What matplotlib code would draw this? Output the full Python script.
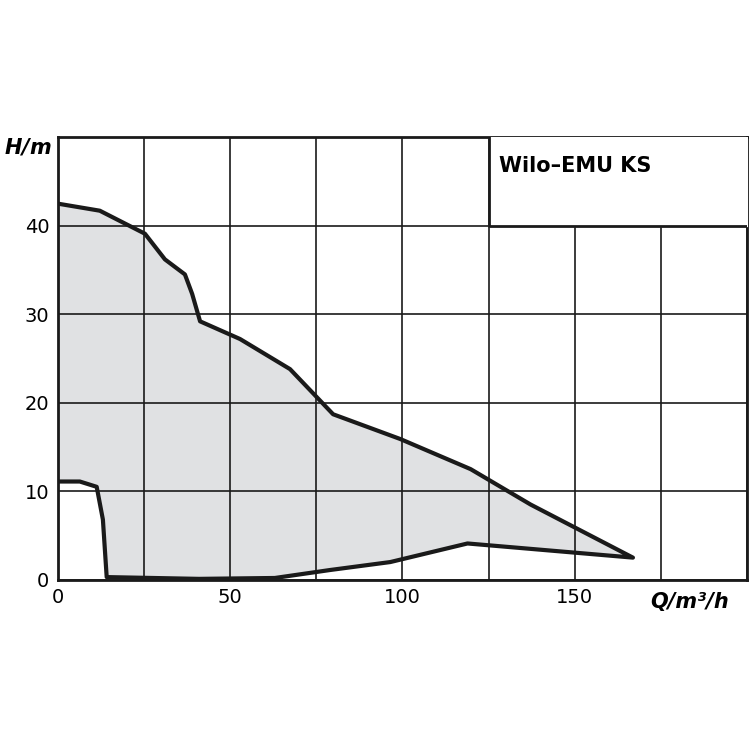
import matplotlib.pyplot as plt

upperQ = [0, 12.2, 25.3, 31.1, 36.9, 39.0, 41.3, 52.9, 67.4, 79.9, 99.4, 119.8, 137.2, 166.9]
upperH = [42.5, 41.7, 39.1, 36.2, 34.5, 32.3, 29.2, 27.2, 23.8, 18.7, 15.9, 12.5, 8.5, 2.5]
lowerQ = [166.9, 118.9, 96.5, 79.0, 63.0, 41.0, 14.2, 13.1, 11.3, 6.4, 0]
lowerH = [2.5, 4.1, 2.0, 1.1, 0.2, 0.1, 0.3, 6.8, 10.5, 11.1, 11.1]

fig = plt.figure(figsize=(7.5, 7.5), dpi=100)
ax = fig.add_axes([0.077, 0.227, 0.919, 0.59])

polyQ = upperQ + lowerQ
polyH = upperH + lowerH
ax.fill(polyQ, polyH, color='#e0e1e3', zorder=1)
ax.plot(upperQ + lowerQ, upperH + lowerH, color='#1a1a1a', lw=3, zorder=3, solid_joinstyle='round')

ax.set_xlim(0, 200)
ax.set_ylim(0, 50)
ax.set_xticks(range(0, 201, 25))
ax.set_yticks(range(0, 51, 10))
ax.set_xticklabels(['0', '', '50', '', '100', '', '150', '', ''])
ax.set_yticklabels(['0', '10', '20', '30', '40', ''])
ax.grid(True, color='#1a1a1a', lw=1.2, zorder=0)
ax.tick_params(length=0, labelsize=14, pad=6)
for s in ax.spines.values():
    s.set_linewidth(2)
    s.set_color('#1a1a1a')

ax.fill_between([125, 200], 40, 50, color='white', zorder=4)
ax.plot([125, 125, 200], [50, 40, 40], color='#1a1a1a', lw=2, zorder=5)
ax.text(128, 46.7, 'Wilo\u2013EMU KS', fontsize=15, fontweight='bold', va='center', zorder=6)

fig.text(0.005, 0.795, r'$\boldsymbol{H}$/m', fontsize=15, fontweight='bold', style='italic')
ax.text(172, -2.5, 'Q/m³/h', fontsize=15, fontweight='bold', style='italic', va='center')

fig.savefig('out.png')
